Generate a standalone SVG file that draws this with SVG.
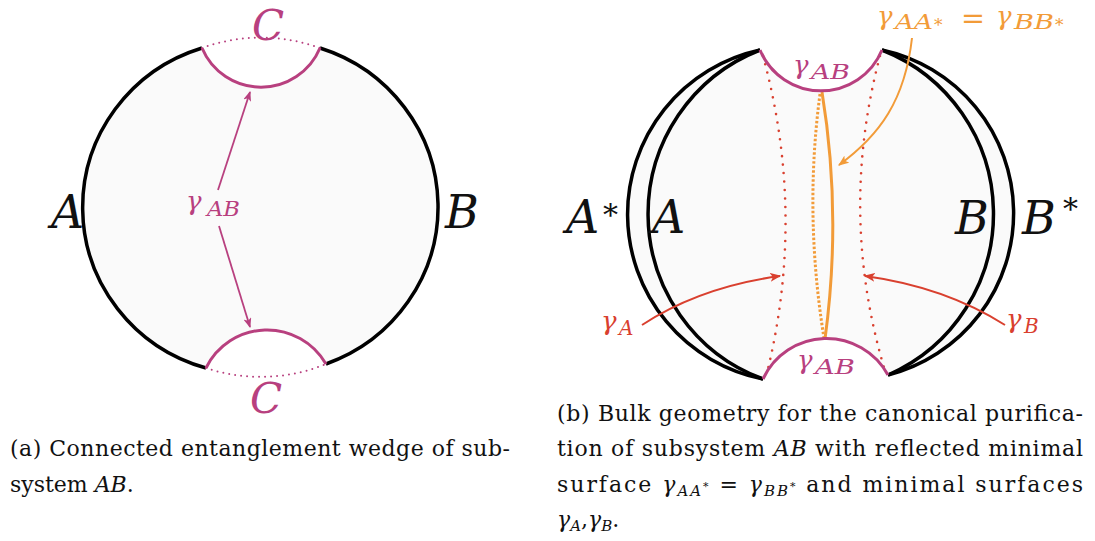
<svg xmlns="http://www.w3.org/2000/svg" width="1095" height="541" viewBox="0 0 1095 541">
<style>
text{font-family:"DejaVu Serif",serif;fill:#111}
.it{font-style:italic}
.blk{fill:none;stroke:#000;stroke-width:3.5}
.mg{fill:none;stroke:#b8407f;stroke-width:3}
.mgd{fill:none;stroke:#b8407f;stroke-width:2;stroke-dasharray:0 6;stroke-linecap:round}
.rdd{fill:none;stroke:#d9402f;stroke-width:2.6;stroke-dasharray:0 8.5;stroke-linecap:round}
.ord{fill:none;stroke:#f29b38;stroke-width:3;stroke-dasharray:2.5 2}
.ors{fill:none;stroke:#f29b38;stroke-width:3}
.tm{fill:#b8407f}
.tr{fill:#d9402f}
.to{fill:#f29b38}
.cap{font-size:22px}
</style>
<defs>
<marker id="ahM" viewBox="0 0 10 8" refX="9" refY="4" markerWidth="10" markerHeight="8" markerUnits="userSpaceOnUse" orient="auto"><path d="M0,0 L10,4 L0,8 L2.5,4 Z" fill="#b8407f"/></marker>
<marker id="ahR" viewBox="0 0 10 8" refX="9" refY="4" markerWidth="11" markerHeight="9" markerUnits="userSpaceOnUse" orient="auto"><path d="M0,0 L10,4 L0,8 L2.5,4 Z" fill="#d9402f"/></marker>
<marker id="ahO" viewBox="0 0 10 8" refX="9" refY="4" markerWidth="11" markerHeight="9" markerUnits="userSpaceOnUse" orient="auto"><path d="M0,0 L10,4 L0,8 L2.5,4 Z" fill="#f29b38"/></marker>
</defs>

<!-- Left diagram -->
<g id="wedge-left">
<path d="M202,48 A170,167 0 0 0 206,368 A68,68 0 0 1 326,364 A170,167 0 0 0 320,48 A64,64 0 0 1 202,48 Z" fill="#fafafa" stroke="none"/>
<path class="blk" d="M202,48 A170,167 0 0 0 206,368"/>
<path class="blk" d="M320,48 A170,167 0 0 1 326,364"/>
<path class="mgd" d="M202,48 A170,167 0 0 1 320,48"/>
<path class="mgd" d="M206,368 A170,167 0 0 0 326,364"/>
<path class="mg" d="M202,48 A64,64 0 0 0 320,48"/>
<path class="mg" d="M206,368 A68,68 0 0 1 326,364"/>
</g>
<g id="labels-left">
<text class="it" x="51" y="228" font-size="46">A</text>
<text class="it" x="445" y="228" font-size="46">B</text>
<text class="it tm" x="252" y="40" font-size="42">C</text>
<text class="it tm" x="250" y="413" font-size="42">C</text>
<text class="it tm" y="210" font-size="26"><tspan x="186">γ</tspan><tspan x="207" y="216" font-size="20" textLength="33" lengthAdjust="spacingAndGlyphs">AB</tspan></text>
</g>

<!-- Right diagram -->
<g id="bulk-right">
<path d="M760,50 A168,168 0 0 0 763,379 A70,70 0 0 1 888,375 A167,167 0 0 0 882,50 A66,66 0 0 1 760,50 Z" fill="#fafafa" stroke="none"/>
<path class="blk" d="M760,50 A176,176 0 0 0 763,379"/>
<path class="blk" d="M760,50 A168,168 0 0 0 763,379"/>
<path class="blk" d="M882,50 A176,176 0 0 1 888,375"/>
<path class="blk" d="M882,50 A167,167 0 0 1 888,375"/>
<path class="rdd" d="M763,56 Q806,214 767,373"/>
<path class="rdd" d="M880,56 Q838,214 885,371"/>
<path class="ord" d="M820,94 Q804,214 824,338"/>
<path class="ors" d="M822,92 Q842,214 825,339"/>
<path class="mg" d="M760,50 A66,66 0 0 0 882,50"/>
<path class="mg" d="M763,379 A70,70 0 0 1 888,375"/>
</g>
<g id="labels-right">
<text class="it" x="566" y="233" font-size="46">A</text>
<text x="603" y="225" font-size="30">*</text>
<text class="it" x="652" y="233" font-size="46">A</text>
<text class="it" x="955" y="234" font-size="46">B</text>
<text class="it" x="1022" y="234" font-size="46">B</text>
<text x="1063" y="219" font-size="30">*</text>
<text class="it tm" y="74" font-size="26"><tspan x="793">γ</tspan><tspan x="811" y="79" font-size="20" textLength="39" lengthAdjust="spacingAndGlyphs">AB</tspan></text>
<text class="it tm" y="369" font-size="26"><tspan x="797">γ</tspan><tspan x="815" y="374" font-size="20" textLength="40" lengthAdjust="spacingAndGlyphs">AB</tspan></text>
<text class="it tr" y="330" font-size="26"><tspan x="601">γ</tspan><tspan x="619" y="335" font-size="20">A</tspan></text>
<text class="it tr" y="328" font-size="26"><tspan x="1006">γ</tspan><tspan x="1024" y="333" font-size="20">B</tspan></text>
<text class="to" y="25" font-size="26"><tspan class="it" x="877">γ</tspan><tspan class="it" x="895" y="29" font-size="20" textLength="38" lengthAdjust="spacingAndGlyphs">AA</tspan><tspan x="934" y="31" font-size="17">*</tspan><tspan x="961" y="28" font-size="30" textLength="24" lengthAdjust="spacingAndGlyphs">=</tspan><tspan class="it" x="996" y="25">γ</tspan><tspan class="it" x="1014" y="29" font-size="20" textLength="40" lengthAdjust="spacingAndGlyphs">BB</tspan><tspan x="1055" y="31" font-size="17">*</tspan></text>
</g>

<g id="connectors">
<line x1="218" y1="190" x2="250" y2="92" stroke="#b8407f" stroke-width="1.8" marker-end="url(#ahM)"/>
<line x1="219" y1="226" x2="250" y2="327" stroke="#b8407f" stroke-width="1.8" marker-end="url(#ahM)"/>
<path d="M642,325 Q700,287 780,276" fill="none" stroke="#d9402f" stroke-width="2" marker-end="url(#ahR)"/>
<path d="M1005,325 Q945,287 865,276" fill="none" stroke="#d9402f" stroke-width="2" marker-end="url(#ahR)"/>
<path d="M912,38 C905,100 880,135 839,165" fill="none" stroke="#f29b38" stroke-width="2" marker-end="url(#ahO)"/>
</g>

<g id="captions">
<text class="cap" x="10" y="456" textLength="500" lengthAdjust="spacing">(a) Connected entanglement wedge of sub-</text>
<text class="cap" x="10" y="492">system <tspan class="it">AB</tspan>.</text>
<text class="cap" x="557" y="421" textLength="526" lengthAdjust="spacing">(b) Bulk geometry for the canonical purifica-</text>
<text class="cap" x="557" y="456" textLength="526" lengthAdjust="spacing">tion of subsystem <tspan class="it">AB</tspan> with reflected minimal</text>
<text class="cap" x="557" y="492" textLength="526" lengthAdjust="spacing">surface <tspan class="it">γ</tspan><tspan class="it" font-size="15" dy="4">AA</tspan><tspan font-size="11" dy="-6">*</tspan><tspan dy="2"> = </tspan><tspan class="it">γ</tspan><tspan class="it" font-size="15" dy="4">BB</tspan><tspan font-size="11" dy="-6">*</tspan><tspan dy="2"> and minimal surfaces</tspan></text>
<text class="cap" x="557" y="527"><tspan class="it">γ</tspan><tspan class="it" font-size="15" dy="4">A</tspan><tspan dy="-4">,</tspan><tspan class="it">γ</tspan><tspan class="it" font-size="15" dy="4">B</tspan><tspan dy="-4">.</tspan></text>
</g>
</svg>
